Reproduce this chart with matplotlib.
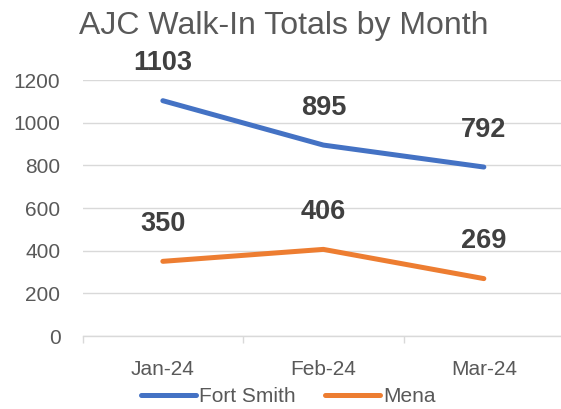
import matplotlib
matplotlib.use("Agg")
import matplotlib.pyplot as plt
from matplotlib.ticker import FixedLocator

plt.rcParams["font.family"] = ["Liberation Sans", "DejaVu Sans"]

MONTHS = ["Jan-24", "Feb-24", "Mar-24"]
FORT_SMITH = [1103, 895, 792]
MENA = [350, 406, 269]
Y_TICKS = [0, 200, 400, 600, 800, 1000, 1200]

BLUE = "#4472C4"
ORANGE = "#ED7D31"
GRID = "#D9D9D9"
TEXT = "#595959"
LABEL = "#404040"

W, H = 561, 409
fig = plt.figure(figsize=(W / 100, H / 100), dpi=100)
ax = fig.add_axes([82.6 / W, 1 - 336 / H, (W - 82.6) / W, 256 / H])

x = list(range(len(MONTHS)))
for values, color, name in ((FORT_SMITH, BLUE, "Fort Smith"), (MENA, ORANGE, "Mena")):
    ax.plot(x, values, color=color, lw=3.6, solid_capstyle="round", solid_joinstyle="round", label=name)
    for xi, v in zip(x, values):
        ax.annotate(str(v), (xi, v), xytext=(0, 27), textcoords="offset points",
                    ha="center", va="center", fontsize=19.5, fontweight="bold", color=LABEL,
                    annotation_clip=False)

ax.set_xlim(-0.5, -0.5 + (W - 82.6) / 160.5)
ax.set_ylim(0, 1200)
ax.set_yticks(Y_TICKS)
ax.set_xticks(x)
ax.set_xticklabels(MONTHS)
ax.xaxis.set_minor_locator(FixedLocator([-0.5, 0.5, 1.5, 2.5]))
ax.tick_params(axis="x", which="major", length=0, pad=17, labelsize=15, labelcolor=TEXT)
ax.tick_params(axis="x", which="minor", length=5, width=1, color=GRID, direction="out")
ax.tick_params(axis="y", length=0, pad=16, labelsize=15, labelcolor=TEXT)
ax.grid(axis="y", color=GRID, lw=1)
ax.set_axisbelow(True)
for side in ("top", "right", "left"):
    ax.spines[side].set_visible(False)
ax.spines["bottom"].set_color(GRID)
ax.spines["bottom"].set_linewidth(1)

fig.text(283.5 / W, 1 - 34 / H, "AJC Walk-In Totals by Month", ha="center", va="baseline",
         fontsize=23, color=TEXT)

fig.legend(loc="center", bbox_to_anchor=(288 / W, 1 - 397 / H), ncol=2, frameon=False,
           fontsize=15, labelcolor=TEXT, handlelength=2.65, handletextpad=0.15,
           columnspacing=1.4, borderpad=0, borderaxespad=0)

fig.savefig("out.png", dpi=100)
